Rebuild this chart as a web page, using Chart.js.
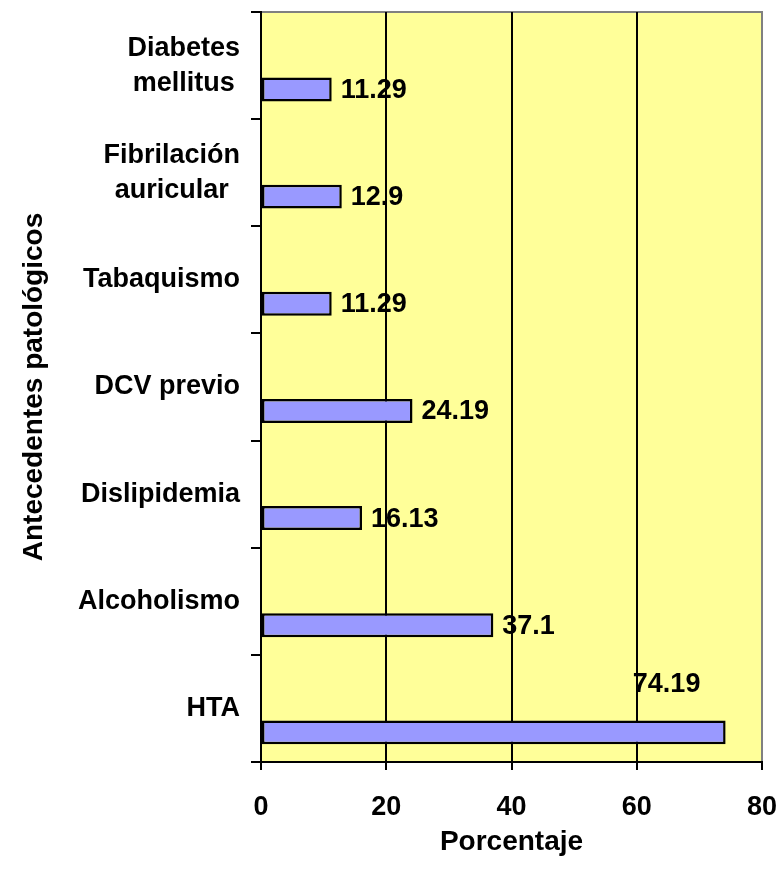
<!DOCTYPE html>
<html>
<head>
  <meta charset="utf-8">
  <title>Antecedentes patológicos</title>
  <style>
    body { margin: 0; background: #ffffff; }
    #wrap { width: 781px; height: 889px; position: relative; }
  </style>
  <script src="https://cdn.jsdelivr.net/npm/chart.js"></script>
</head>
<body>
  <div id="wrap"><canvas id="antecedentesChart"></canvas></div>

  <script>
    // categories, top to bottom
    const categories = [
      ['Diabetes', 'mellitus'],
      ['Fibrilación', 'auricular'],
      ['Tabaquismo'],
      ['DCV previo'],
      ['Dislipidemia'],
      ['Alcoholismo'],
      ['HTA']
    ];
    const porcentajes = [11.29, 12.9, 11.29, 24.19, 16.13, 37.1, 74.19];
    const xTicks = [0, 20, 40, 60, 80];
    // the bar sits in the last of three slots per category, the first two are empty
    const emptySlot = [null, null, null, null, null, null, null];

    const FAMILY = '"Liberation Sans", Arial, sans-serif';
    const FONT = 'bold 27px ' + FAMILY;

    // yellow plot area with grey frame
    const plotBackground = {
      id: 'plotBackground',
      beforeDraw(chart) {
        const { ctx, chartArea: a } = chart;
        ctx.save();
        ctx.fillStyle = '#FFFF99';
        ctx.fillRect(a.left, a.top, a.right - a.left, a.bottom - a.top);
        ctx.strokeStyle = '#808080';
        ctx.lineWidth = 2;
        ctx.strokeRect(a.left, a.top, a.right - a.left, a.bottom - a.top);
        ctx.restore();
      }
    };

    // category names: block right-aligned to the axis, lines centred in the block
    const categoryLabels = {
      id: 'categoryLabels',
      afterDraw(chart) {
        const { ctx, scales: { y } } = chart;
        const right = chart.chartArea.left - 21;
        const lineH = 35;
        ctx.save();
        ctx.font = FONT;
        ctx.fillStyle = '#000';
        ctx.textAlign = 'center';
        ctx.textBaseline = 'middle';
        categories.forEach((lines, i) => {
          const w = Math.max(...lines.map(l => ctx.measureText(l).width));
          const cx = right - w / 2;
          const cy = y.getPixelForValue(i);
          lines.forEach((l, k) => {
            ctx.fillText(l, cx, cy + (k - (lines.length - 1) / 2) * lineH);
          });
        });
        ctx.restore();
      }
    };

    // value next to each bar end; moved above the bar when it would run out of the plot
    const valueLabels = {
      id: 'valueLabels',
      afterDatasetsDraw(chart) {
        const { ctx, chartArea } = chart;
        const meta = chart.getDatasetMeta(2);
        ctx.save();
        ctx.font = FONT;
        ctx.fillStyle = '#000';
        ctx.textBaseline = 'middle';
        meta.data.forEach((bar, i) => {
          const txt = String(porcentajes[i]);
          const w = ctx.measureText(txt).width;
          if (bar.x + 9 + w <= chartArea.right) {
            ctx.textAlign = 'left';
            ctx.fillText(txt, bar.x + 9, bar.y + 1);
          } else {
            ctx.textAlign = 'center';
            ctx.fillText(txt, bar.x - 59, bar.y - 48);
          }
        });
        ctx.restore();
      }
    };

    const labels = categories.map(c => c.join(' '));

    new Chart(document.getElementById('antecedentesChart'), {
      type: 'bar',
      data: {
        labels: labels,
        datasets: [
          { label: '', data: emptySlot },
          { label: '', data: emptySlot },
          {
            label: 'Porcentaje',
            data: porcentajes,
            backgroundColor: '#9999FF',
            borderColor: '#000000',
            borderWidth: 2.5,
            borderSkipped: false
          }
        ]
      },
      options: {
        indexAxis: 'y',
        responsive: true,
        maintainAspectRatio: false,
        animation: false,
        categoryPercentage: 0.67,
        barPercentage: 1,
        layout: { padding: { top: 12, right: 19, left: 0, bottom: 0 } },
        plugins: {
          legend: { display: false },
          tooltip: { enabled: false }
        },
        scales: {
          x: {
            type: 'linear',
            min: 0,
            max: 80,
            afterBuildTicks(scale) {
              scale.ticks = xTicks.map(v => ({ value: v }));
            },
            afterFit(scale) {
              scale.height = 127;
              // the end labels may hang into the page margin
              scale.paddingLeft = 0;
              scale.paddingRight = 0;
            },
            grid: {
              color: ctx => (ctx.tick && ctx.tick.value === 80 ? '#808080' : '#000000'),
              tickColor: '#000000',
              lineWidth: 2,
              tickLength: 8
            },
            border: { color: '#000000', width: 2 },
            ticks: {
              color: '#000000',
              padding: 21,
              maxRotation: 0,
              font: { family: FAMILY, size: 27, weight: 'bold' }
            },
            title: {
              display: true,
              text: 'Porcentaje',
              color: '#000000',
              padding: { top: 0, bottom: 30 },
              font: { family: FAMILY, size: 28, weight: 'bold' }
            }
          },
          y: {
            afterFit(scale) { scale.width = 261; },
            grid: {
              offset: true,
              drawOnChartArea: false,
              color: '#000000',
              lineWidth: 2,
              tickLength: 10
            },
            border: { color: '#000000', width: 2 },
            ticks: { display: false },
            title: {
              display: true,
              text: 'Antecedentes patológicos',
              color: '#000000',
              padding: { top: 17, bottom: 0 },
              font: { family: FAMILY, size: 28, weight: 'bold' }
            }
          }
        }
      },
      plugins: [plotBackground, categoryLabels, valueLabels]
    });
  </script>
</body>
</html>
